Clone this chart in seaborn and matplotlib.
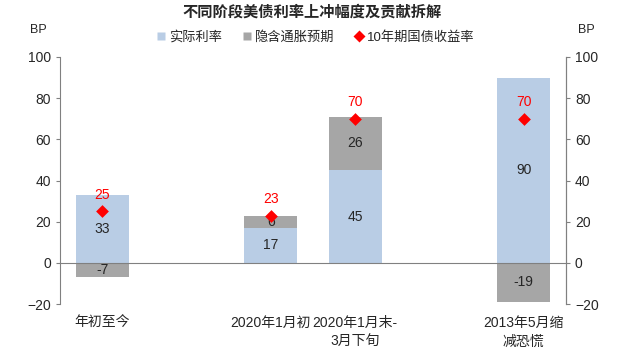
import numpy as np
import pandas as pd
import matplotlib
matplotlib.use('Agg')
import matplotlib.pyplot as plt
import seaborn as sns
from matplotlib.lines import Line2D

# 데이터
categories = ['年初至今', '2020年1月初', '2020年1月末-\n3月下旬', '2013年5月缩\n减恐慌']
order = ['年初至今', ' ', '2020年1月初', '2020年1月末-\n3月下旬', '  ', '2013年5月缩\n减恐慌']
real_rate = [33, 17, 45, 90]
inflation = [-7, 6, 26, -19]
yield_10y = [25, 23, 70, 70]

c_real = '#B9CDE5'
c_infl = '#A6A6A6'
c_red = '#FF0000'
c_axis = '#808080'

sns.set_style('white')
plt.rcParams['font.family'] = ['Liberation Sans', 'Noto Sans CJK SC', 'DejaVu Sans']

df = pd.DataFrame({'cat': categories, 'real': real_rate, 'infl': inflation, 'y10': yield_10y})
# 통胀预期: 양수면 실제금리 위에 쌓고, 음수면 0 아래로
df['base'] = np.where(df['infl'] > 0, df['real'], 0)

fig = plt.figure(figsize=(6.24, 3.54), dpi=100)
ax = fig.add_axes([0.096, 0.141, 0.811, 0.698])

sns.barplot(data=df, x='cat', y='real', order=order, color=c_real, width=0.63,
            saturation=1, ax=ax, edgecolor='none')
sns.barplot(data=df, x='cat', y='infl', order=order, color=c_infl, width=0.63,
            saturation=1, ax=ax, bottom=df['base'].values, edgecolor='none')
sns.stripplot(data=df, x='cat', y='y10', order=order, color=c_red, marker='D',
              size=6.5, jitter=False, ax=ax, zorder=5)

ax.bar_label(ax.containers[0], fmt='%.0f', label_type='center', fontsize=10)
ax.bar_label(ax.containers[1], fmt='%.0f', label_type='center', fontsize=10)

for i, c in enumerate(categories):
    ax.annotate(f'{yield_10y[i]}', (order.index(c), yield_10y[i]), xytext=(0, 7),
                textcoords='offset points', ha='center', va='bottom',
                color=c_red, fontsize=10)

ax.set_ylim(-20, 100)
ax.set_xlim(-0.5, len(order) - 0.5)
ax.set_yticks(range(-20, 101, 20))
ax.set_xlabel('')
ax.set_ylabel('')

# x축은 0선에 두고 라벨은 아래로
ax.spines['bottom'].set_position(('data', 0))
ax.spines['top'].set_visible(False)
for s in ['left', 'right', 'bottom']:
    ax.spines[s].set_color(c_axis)
ax.set_xticks(np.arange(0.5, len(order) - 0.5, 1), minor=True)
ax.tick_params(axis='x', which='major', length=0, pad=38, labelsize=10)
ax.tick_params(axis='x', which='minor', length=4, color=c_axis, direction='out')
ax.tick_params(axis='y', length=3, color=c_axis, direction='out', labelsize=10, left=True)
for t in ax.get_xticklabels():
    t.set_linespacing(1.45)

ax2 = ax.twinx()
ax2.set_ylim(-20, 100)
ax2.set_yticks(range(-20, 101, 20))
ax2.spines['top'].set_visible(False)
ax2.spines['bottom'].set_visible(False)
ax2.spines['left'].set_visible(False)
ax2.spines['right'].set_color(c_axis)
ax2.tick_params(axis='y', length=3, color=c_axis, direction='out', labelsize=10, right=True)

fig.text(0.5, 0.965, '不同阶段美债利率上冲幅度及贡献拆解', ha='center', va='center',
         fontsize=11, fontweight='bold')
fig.text(0.062, 0.915, 'BP', ha='center', va='center', fontsize=9)
fig.text(0.94, 0.915, 'BP', ha='center', va='center', fontsize=9)

handles = [
    Line2D([], [], marker='s', color='none', markerfacecolor=c_real, markeredgecolor='none', markersize=6),
    Line2D([], [], marker='s', color='none', markerfacecolor=c_infl, markeredgecolor='none', markersize=6),
    Line2D([], [], marker='D', color='none', markerfacecolor=c_red, markeredgecolor='none', markersize=6),
]
fig.legend(handles, ['实际利率', '隐含通胀预期', '10年期国债收益率'], loc='center',
           bbox_to_anchor=(0.505, 0.895), ncol=3, frameon=False, fontsize=9.5,
           handlelength=0.8, handletextpad=0.2, columnspacing=1.5)

fig.savefig('out.png', dpi=100)
